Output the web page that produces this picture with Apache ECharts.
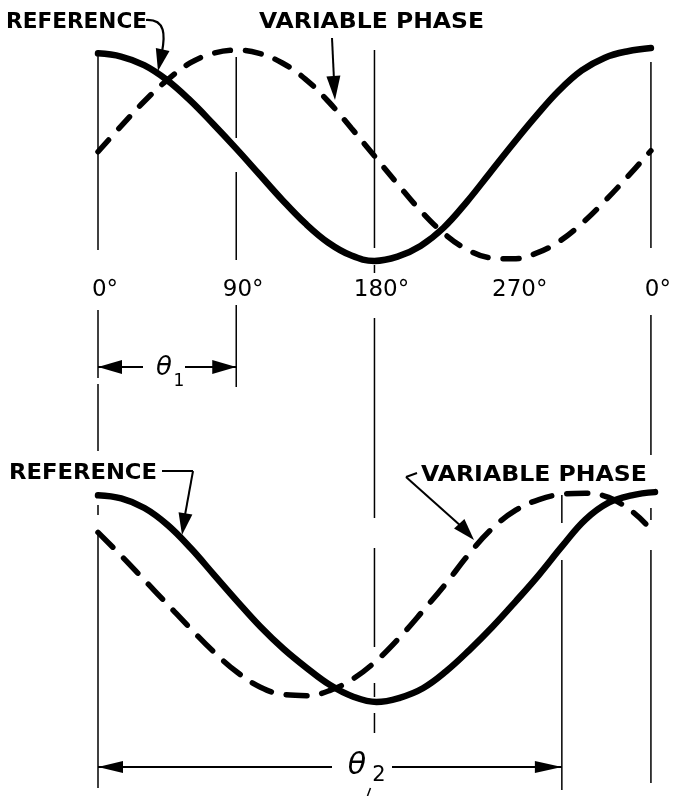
<!DOCTYPE html>
<html>
<head>
<meta charset="utf-8">
<script src="https://cdn.jsdelivr.net/npm/echarts@6/dist/echarts.min.js"></script>
<style>
  html, body { margin: 0; background: #fff; }
  #main { width: 674px; height: 796px; }
</style>
</head>
<body>
<div id="main"></div>
<script>
// phase angles
const thetaOne = 90;
const thetaTwo = 302;

// sample angles (deg) used for all four traces
const angles = [0, 15, 30, 45, 60, 75, 90, 105, 120, 135, 150, 165, 180, 195, 210, 225, 240, 255, 270, 285, 300, 315, 330, 345, 360];

// upper drawing: reference (solid) and variable phase (dashed), relative amplitude
const refTop = [0.95, 0.92, 0.84, 0.70, 0.51, 0.29, 0.06, -0.18, -0.42, -0.64, -0.82, -0.94, -0.99, -0.95, -0.85, -0.68, -0.44, -0.17, 0.10, 0.36, 0.60, 0.79, 0.91, 0.97, 1.0];
const varTop = [0.03, 0.27, 0.50, 0.70, 0.86, 0.95, 0.98, 0.95, 0.86, 0.71, 0.50, 0.25, -0.01, -0.27, -0.52, -0.73, -0.88, -0.96, -0.97, -0.92, -0.81, -0.64, -0.43, -0.20, 0.04];

// lower drawing (dashed trace stops a little short of 360)
const refBot = [0.95, 0.92, 0.83, 0.67, 0.45, 0.20, -0.05, -0.29, -0.50, -0.68, -0.84, -0.95, -1.0, -0.96, -0.87, -0.71, -0.51, -0.29, -0.05, 0.20, 0.47, 0.72, 0.88, 0.95, 0.98];
const varBot = [0.60, 0.38, 0.15, -0.08, -0.31, -0.53, -0.72, -0.86, -0.93, -0.94, -0.89, -0.78, -0.61, -0.39, -0.14, 0.12, 0.40, 0.64, 0.81, 0.91, 0.96, 0.97, 0.93, 0.80];
const varBotEnd = [354, 0.68];

const tickLabels = ['0°', '90°', '180°', '270°', '0°'];

function pairs(deg, val) {
  return val.map((v, i) => [deg[i], v]);
}

const chart = echarts.init(document.getElementById('main'));

const solid = { color: '#000', width: 6.5, cap: 'round', join: 'round' };

chart.setOption({
  animation: false,
  backgroundColor: '#fff',
  grid: [
    { left: 98, width: 557, top: 48, height: 214 },
    { left: 98, width: 557, top: 490, height: 212 }
  ],
  xAxis: [
    {
      type: 'value', gridIndex: 0, min: 0, max: 360, interval: 90,
      axisLine: { show: false }, axisTick: { show: false }, splitLine: { show: false },
      axisLabel: {
        margin: 17, color: '#000', fontSize: 23, fontFamily: 'DejaVu Sans',
        padding: [0, 0, 0, 14],
        formatter: v => tickLabels[v / 90]
      }
    },
    { type: 'value', gridIndex: 1, min: 0, max: 360, show: false }
  ],
  yAxis: [
    { type: 'value', gridIndex: 0, min: -1, max: 1, show: false },
    { type: 'value', gridIndex: 1, min: -1, max: 1, show: false }
  ],
  series: [
    {
      name: 'reference', type: 'line', xAxisIndex: 0, yAxisIndex: 0,
      data: pairs(angles, refTop), smooth: 0.4, symbol: 'none', clip: false,
      lineStyle: solid
    },
    {
      name: 'variable phase', type: 'line', xAxisIndex: 0, yAxisIndex: 0,
      data: pairs(angles, varTop), smooth: 0.4, symbol: 'none', clip: false,
      lineStyle: { color: '#000', width: 5.5, type: [16, 15], cap: 'round' }
    },
    {
      name: 'reference', type: 'line', xAxisIndex: 1, yAxisIndex: 1,
      data: pairs(angles, refBot), smooth: 0.4, symbol: 'none', clip: false,
      lineStyle: solid
    },
    {
      name: 'variable phase', type: 'line', xAxisIndex: 1, yAxisIndex: 1,
      data: pairs(angles, varBot).concat([varBotEnd]), smooth: 0.4, symbol: 'none', clip: false,
      lineStyle: { color: '#000', width: 5.5, type: [21, 15], cap: 'round' }
    }
  ]
});

// ---- annotations (guide lines, arrows, lettering) ----
const px = deg => chart.convertToPixel({ xAxisIndex: 0 }, deg);

// vertical guides: angle -> pixel y ranges of each piece
const guides = [
  [0, [[53, 250], [310, 378], [384, 451], [505, 515], [530, 788]]],
  [90, [[57, 138], [172, 260], [305, 387]]],
  [180, [[50, 248], [265, 273], [318, 518], [548, 647], [683, 697], [713, 733]]],
  [360, [[62, 248], [315, 455], [508, 520], [550, 783]]],
  [thetaTwo, [[495, 523], [560, 790]]]
];

const g = [];
function seg(x1, y1, x2, y2, w) {
  g.push({ type: 'line', z: 10, shape: { x1, y1, x2, y2 }, style: { stroke: '#000', lineWidth: w || 1.5 } });
}
function head(tx, ty, fx, fy, len, w) {
  const dx = tx - fx, dy = ty - fy, d = Math.hypot(dx, dy);
  const ux = dx / d, uy = dy / d;
  const bx = tx - ux * len, by = ty - uy * len;
  g.push({
    type: 'polygon', z: 10,
    shape: { points: [[tx, ty], [bx - uy * w, by + ux * w], [bx + uy * w, by - ux * w]] },
    style: { fill: '#000' }
  });
}

guides.forEach(([deg, parts]) => {
  const x = px(deg);
  parts.forEach(([a, b]) => seg(x, a, x, b));
});
seg(px(180) - 4, 788, px(180) - 7, 796);

// theta 1
const x0 = px(0), x1 = px(thetaOne), x2 = px(thetaTwo);
seg(x0, 367, 143, 367, 2.2);
seg(185, 367, x1, 367, 2.2);
head(x0, 367, x0 + 30, 367, 24, 7);
head(x1, 367, x1 - 30, 367, 24, 7);

// theta 2
seg(x0, 767, 332, 767, 2);
seg(392, 767, x2, 767, 2);
head(x0, 767, x0 + 30, 767, 25, 6);
head(x2, 767, x2 - 30, 767, 27, 6);

// leaders
g.push({
  type: 'bezierCurve', z: 10,
  shape: { x1: 146, y1: 20, cpx1: 166, cpy1: 19, cpx2: 165, cpy2: 36, x2: 162, y2: 52 },
  style: { stroke: '#000', lineWidth: 2.2, fill: null }
});
head(158, 71, 163, 48, 22, 7);

seg(332, 38, 334, 80, 2);
head(335, 100, 333, 70, 24, 7);

seg(162, 471, 193, 471, 2);
seg(193, 471, 185, 515, 2);
head(182, 535, 186, 510, 22, 7);

seg(417, 473, 406, 477, 2);
seg(406, 477, 462, 527, 2);
head(474, 540, 455, 519, 22, 7);

// lettering
const ctx = document.createElement('canvas').getContext('2d');
function word(text, left, cy, width, size) {
  const font = 'bold ' + size + 'px "DejaVu Sans"';
  ctx.font = font;
  const w = ctx.measureText(text).width;
  g.push({
    type: 'text', z: 10, x: left, y: cy, scaleX: width / w,
    style: { text, font, fill: '#000', textAlign: 'left', textVerticalAlign: 'middle' }
  });
}
word('REFERENCE', 6, 22, 141, 22);
word('VARIABLE PHASE', 259, 22, 225, 22);
word('REFERENCE', 9, 473, 148, 22);
word('VARIABLE PHASE', 421, 475, 226, 22);

function glyph(text, cx, cy, font) {
  g.push({
    type: 'text', z: 10, x: cx, y: cy,
    style: { text, font, fill: '#000', textAlign: 'center', textVerticalAlign: 'middle' }
  });
}
glyph('θ', 164, 368, 'italic 26px "DejaVu Sans"');
glyph('1', 179, 382, '17px "DejaVu Sans"');
glyph('θ', 357, 766, 'italic 30px "DejaVu Sans"');
glyph('2', 379, 776, '21px "DejaVu Sans"');

chart.setOption({ graphic: g });
</script>
</body>
</html>
